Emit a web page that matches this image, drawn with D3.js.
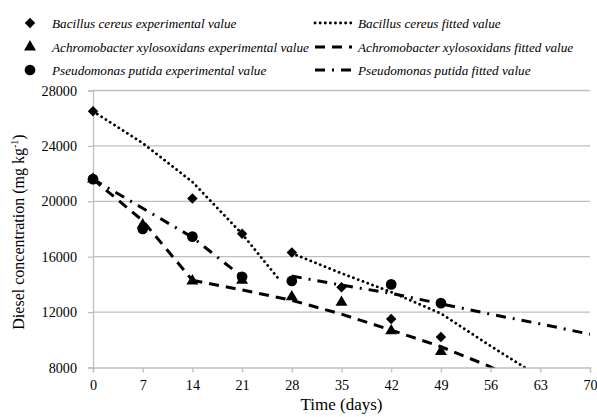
<!DOCTYPE html>
<html>
<head>
<meta charset="utf-8">
<script src="https://cdn.jsdelivr.net/npm/d3@7"></script>
<style>
  body { margin: 0; background: #fff; }
  svg text { font-family: 'Liberation Serif', 'Times New Roman', serif !important; fill: #000; }
</style>
</head>
<body>
<div id="chart"></div>
<script>
// experimental values [day, mg/kg]
let bacillusExp = [[0, 26500], [14, 20200], [21, 17650], [28, 16300], [35, 13800], [42, 11500], [49, 10200]];
let achroExp = [[0, 21600], [7, 18300], [14, 14250], [21, 14300], [28, 13100], [35, 12700], [42, 10650], [49, 9150]];
let pseudoExp = [[0, 21600], [7, 18000], [14, 17450], [21, 14550], [28, 14250], [42, 14000], [49, 12650]];

// fitted curves, two phases each
let bacillusFit1 = [[0, 26500], [7, 24200], [14, 21400], [21, 17650], [26.3, 14300]];
let bacillusFit2 = [[28, 16250], [35, 14800], [42, 13450], [49, 11900], [56, 9550], [63, 7300]];
let achroFit1 = [[0, 21600], [7, 18600], [14, 14300]];
let achroFit2 = [[14, 14300], [21, 13600], [28, 12850], [35, 11850], [42, 10700], [49, 9500], [56, 8050], [63, 6200]];
let pseudoFit1 = [[0, 21600], [7, 19500], [14, 17400], [21, 14550]];
let pseudoFit2 = [[28, 14600], [35, 13950], [42, 13350], [49, 12600], [56, 11850], [63, 11150], [70, 10400]];

let xTicks = [0, 7, 14, 21, 28, 35, 42, 49, 56, 63, 70];
let yTicks = [8000, 12000, 16000, 20000, 24000, 28000];

let legendLeft = ["Bacillus cereus experimental value", "Achromobacter xylosoxidans experimental value", "Pseudomonas putida experimental value"];
let legendRight = ["Bacillus cereus fitted value", "Achromobacter xylosoxidans fitted value", "Pseudomonas putida fitted value"];

let W = 597, H = 417;
let margin = {top: 90.5, right: 7, bottom: 49.5, left: 93};

let svg = d3.select("#chart").append("svg")
  .attr("width", W)
  .attr("height", H);

let x = d3.scaleLinear().domain([0, 70]).range([margin.left, W - margin.right]);
let y = d3.scaleLinear().domain([8000, 28000]).range([H - margin.bottom, margin.top]);

let axisColor = "#bfbfbf";

// gridlines
svg.append("g").selectAll("line")
  .data(yTicks.slice(1))
  .enter().append("line")
  .attr("x1", x(0)).attr("x2", x(70))
  .attr("y1", d => y(d)).attr("y2", d => y(d))
  .attr("stroke", axisColor).attr("stroke-width", 1.3);

// axes
let xAxis = svg.append("g")
  .attr("transform", "translate(0," + y(8000) + ")")
  .call(d3.axisBottom(x).tickValues(xTicks).tickSize(5).tickPadding(7));
let yAxis = svg.append("g")
  .attr("transform", "translate(" + x(0) + ",0)")
  .call(d3.axisLeft(y).tickValues(yTicks).tickSize(5).tickPadding(11).tickFormat(d3.format("d")));

[xAxis, yAxis].forEach(function(a) {
  a.attr("font-family", null).attr("font-size", null);
  a.select(".domain").attr("stroke", axisColor).attr("stroke-width", 1.3);
  a.selectAll(".tick line").attr("stroke", axisColor).attr("stroke-width", 1.3);
  a.selectAll(".tick text").style("font-size", "14.2px");
});

// clip for fitted lines
svg.append("clipPath").attr("id", "plotclip")
  .append("rect")
  .attr("x", x(0)).attr("y", y(28000))
  .attr("width", x(70) - x(0)).attr("height", y(8000) - y(28000));

let line = d3.line().x(d => x(d[0])).y(d => y(d[1]));

let fits = [
  {data: bacillusFit1, dash: "0.1 5", cap: "round", w: 2.8},
  {data: bacillusFit2, dash: "0.1 5", cap: "round", w: 2.8},
  {data: achroFit1, dash: "10 7", cap: "butt", w: 3},
  {data: achroFit2, dash: "10 7", cap: "butt", w: 3},
  {data: pseudoFit1, dash: "10 7 2 7", cap: "butt", w: 3},
  {data: pseudoFit2, dash: "10 7 2 7", cap: "butt", w: 3}
];

let lineG = svg.append("g").attr("clip-path", "url(#plotclip)");
fits.forEach(function(f) {
  lineG.append("path")
    .attr("d", line(f.data))
    .attr("fill", "none")
    .attr("stroke", "#000")
    .attr("stroke-width", f.w)
    .attr("stroke-dasharray", f.dash)
    .attr("stroke-linecap", f.cap);
});

// markers
let symDiamond = d3.symbol().type(d3.symbolDiamond2).size(70);
let symTriangle = d3.symbol().type(d3.symbolTriangle).size(62);
let symCircle = d3.symbol().type(d3.symbolCircle).size(90);

svg.append("g").selectAll("path")
  .data(achroExp)
  .enter().append("path")
  .attr("d", symTriangle)
  .attr("transform", d => "translate(" + x(d[0]) + "," + y(d[1]) + ")")
  .attr("fill", "#000");

svg.append("g").selectAll("path")
  .data(pseudoExp)
  .enter().append("path")
  .attr("d", symCircle)
  .attr("transform", d => "translate(" + x(d[0]) + "," + y(d[1]) + ")")
  .attr("fill", "#000");

svg.append("g").selectAll("path")
  .data(bacillusExp)
  .enter().append("path")
  .attr("d", symDiamond)
  .attr("transform", d => "translate(" + x(d[0]) + "," + y(d[1]) + ")")
  .attr("fill", "#000");

// axis titles
svg.append("text")
  .attr("x", (x(0) + x(70)) / 2)
  .attr("y", 410)
  .attr("text-anchor", "middle")
  .style("font-size", "17px")
  .text("Time (days)");

let yt = svg.append("text")
  .attr("transform", "translate(24,232) rotate(-90)")
  .attr("text-anchor", "middle")
  .style("font-size", "16px");
yt.append("tspan").text("Diesel concentration (mg kg");
yt.append("tspan").attr("dy", -6).style("font-size", "10px").text("-1");
yt.append("tspan").attr("dy", 6).text(")");

// legend
let legRows = [23, 47, 70];
let legSyms = [symDiamond, symTriangle, symCircle];

legendLeft.forEach(function(t, i) {
  svg.append("path")
    .attr("d", legSyms[i])
    .attr("transform", "translate(30," + legRows[i] + ")")
    .attr("fill", "#000");
  svg.append("text")
    .attr("x", 52)
    .attr("y", legRows[i] + 4.5)
    .style("font-size", "13.2px")
    .style("font-style", "italic")
    .text(t);
});

legendRight.forEach(function(t, i) {
  let f = fits[i * 2];
  svg.append("line")
    .attr("x1", 315).attr("x2", 352)
    .attr("y1", legRows[i]).attr("y2", legRows[i])
    .attr("stroke", "#000")
    .attr("stroke-width", f.w)
    .attr("stroke-dasharray", f.dash)
    .attr("stroke-linecap", f.cap);
  svg.append("text")
    .attr("x", 358)
    .attr("y", legRows[i] + 4.5)
    .style("font-size", "13.2px")
    .style("font-style", "italic")
    .text(t);
});
</script>
</body>
</html>
